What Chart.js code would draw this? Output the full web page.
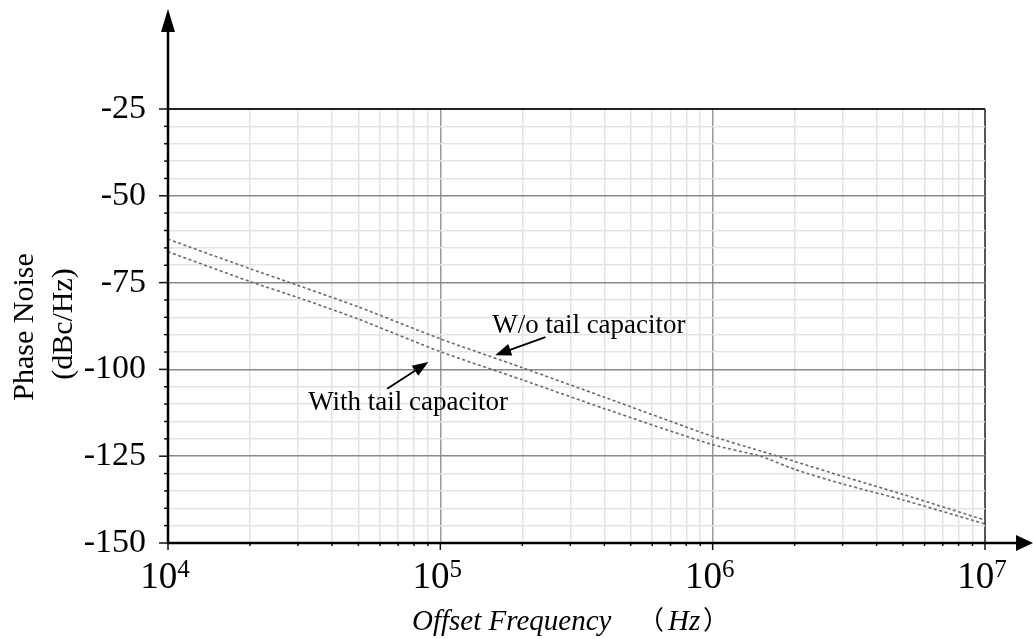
<!DOCTYPE html>
<html>
<head>
<meta charset="utf-8">
<script src="https://cdn.jsdelivr.net/npm/chart.js@4.4.1/dist/chart.umd.min.js"></script>
<style>
  html, body { margin: 0; padding: 0; background: #fff; }
  #wrap { width: 1033px; height: 639px; }
</style>
</head>
<body>
<div id="wrap"><canvas id="chart" width="1033" height="639"></canvas></div>
<script>
// data
const freqs = [1e4, 2e4, 3e4, 5e4, 1e5, 2e5, 4e5, 1e6, 1.5e6, 2e6, 3e6, 5e6, 1e7];
const withoutCap = [-62.5, -71, -75.8, -82, -91.2, -99.5, -108, -119.3, -123.5, -126.5, -130.8, -136, -143.4];
const withCap = [-66.1, -74.7, -79.3, -85.5, -94.9, -103, -111.3, -121.7, -125, -128.8, -133, -137.6, -144.5];
const decades = [4, 5, 6, 7];
const yLabels = [-25, -50, -75, -100, -125, -150];

// minor ticks 2..9 inside each decade
const xTicks = [];
decades.forEach((d, i) => {
  if (i < decades.length - 1) {
    for (let m = 1; m <= 9; m++) xTicks.push(m * Math.pow(10, d));
  } else {
    xTicks.push(Math.pow(10, d));
  }
});

// labels with their arrows, in data units
const notes = [
  { text: 'W/o tail capacitor', at: [1.55e5, -89.5], from: [2.43e5, -90.7], to: [1.59e5, -95.9] },
  { text: 'With tail capacitor', at: [3.27e4, -111.7], from: [6.38e4, -105.6], to: [9.04e4, -97.9] }
];

const serif = "'Liberation Serif', 'Times New Roman', serif";
const cjk = "'Noto Sans CJK SC', sans-serif";
const isDecade = v => Math.abs(Math.log10(v) - Math.round(Math.log10(v))) < 1e-9;

function arrow(ctx, x1, y1, x2, y2, len, half) {
  const ang = Math.atan2(y2 - y1, x2 - x1);
  ctx.beginPath();
  ctx.moveTo(x1, y1);
  ctx.lineTo(x2 - Math.cos(ang) * len * 0.8, y2 - Math.sin(ang) * len * 0.8);
  ctx.stroke();
  ctx.beginPath();
  ctx.moveTo(x2, y2);
  ctx.lineTo(x2 - Math.cos(ang) * len - Math.sin(ang) * half, y2 - Math.sin(ang) * len + Math.cos(ang) * half);
  ctx.lineTo(x2 - Math.cos(ang) * len + Math.sin(ang) * half, y2 - Math.sin(ang) * len - Math.cos(ang) * half);
  ctx.closePath();
  ctx.fill();
}

const decor = {
  id: 'decor',
  afterDraw(chart) {
    const { ctx, chartArea: a, scales: { x, y } } = chart;
    ctx.save();

    // tick marks
    ctx.strokeStyle = '#111';
    ctx.lineWidth = 1.5;
    y.ticks.forEach(t => {
      const py = y.getPixelForValue(t.value);
      const len = t.value % 25 === 0 ? 9 : 4;
      ctx.beginPath(); ctx.moveTo(a.left - len, py); ctx.lineTo(a.left, py); ctx.stroke();
    });
    x.ticks.forEach(t => {
      const px = x.getPixelForValue(t.value);
      const len = isDecade(t.value) ? 7 : 3;
      ctx.beginPath(); ctx.moveTo(px, a.bottom); ctx.lineTo(px, a.bottom + len); ctx.stroke();
    });

    // axes with arrow heads
    ctx.strokeStyle = '#000';
    ctx.fillStyle = '#000';
    ctx.lineWidth = 2.5;
    ctx.beginPath(); ctx.moveTo(a.left, a.bottom + 1); ctx.lineTo(a.left, 30); ctx.stroke();
    ctx.beginPath(); ctx.moveTo(a.left - 7, 32); ctx.lineTo(a.left, 9); ctx.lineTo(a.left + 7, 32); ctx.closePath(); ctx.fill();
    ctx.beginPath(); ctx.moveTo(a.left - 1, a.bottom); ctx.lineTo(1018, a.bottom); ctx.stroke();
    ctx.beginPath(); ctx.moveTo(1016, a.bottom - 8); ctx.lineTo(1033, a.bottom); ctx.lineTo(1016, a.bottom + 8); ctx.closePath(); ctx.fill();

    // x tick labels 10^n
    ctx.textBaseline = 'alphabetic';
    ctx.textAlign = 'left';
    decades.forEach(d => {
      const px = x.getPixelForValue(Math.pow(10, d));
      ctx.font = '37px ' + serif;
      const w1 = ctx.measureText('10').width;
      ctx.font = '25px ' + serif;
      const w2 = ctx.measureText(String(d)).width;
      const left = px - 3 - (w1 + w2) / 2;
      ctx.font = '37px ' + serif;
      ctx.fillText('10', left, 588);
      ctx.font = '25px ' + serif;
      ctx.fillText(String(d), left + w1, 577);
    });

    // axis titles
    ctx.font = 'italic 29px ' + serif;
    ctx.fillText('Offset Frequency', 412, 630);
    ctx.fillText('Hz', 668, 630);
    ctx.font = '26px ' + cjk;
    ctx.fillText('\uFF08', 638, 629);
    ctx.fillText('\uFF09', 703, 629);

    ctx.font = '30px ' + serif;
    ctx.textAlign = 'center';
    ctx.save(); ctx.translate(33, 327); ctx.rotate(-Math.PI / 2); ctx.fillText('Phase Noise', 0, 0); ctx.restore();
    ctx.save(); ctx.translate(72, 324); ctx.rotate(-Math.PI / 2); ctx.fillText('(dBc/Hz)', 0, 0); ctx.restore();

    // annotations
    ctx.textAlign = 'left';
    ctx.font = '27px ' + serif;
    ctx.lineWidth = 1.8;
    notes.forEach(n => {
      ctx.fillText(n.text, x.getPixelForValue(n.at[0]), y.getPixelForValue(n.at[1]));
      arrow(ctx,
        x.getPixelForValue(n.from[0]), y.getPixelForValue(n.from[1]),
        x.getPixelForValue(n.to[0]), y.getPixelForValue(n.to[1]), 16, 6);
    });

    ctx.restore();
  }
};

const lineStyle = {
  borderColor: '#6a6a6a',
  borderWidth: 1.6,
  borderDash: [3, 2.5],
  pointRadius: 0,
  fill: false,
  tension: 0.2
};

new Chart(document.getElementById('chart'), {
  type: 'line',
  data: {
    datasets: [
      Object.assign({ label: 'W/o tail capacitor', data: freqs.map((f, i) => ({ x: f, y: withoutCap[i] })) }, lineStyle),
      Object.assign({ label: 'With tail capacitor', data: freqs.map((f, i) => ({ x: f, y: withCap[i] })) }, lineStyle)
    ]
  },
  options: {
    responsive: false,
    animation: false,
    layout: { padding: { top: 109, right: 48, left: 0, bottom: 0 } },
    plugins: { legend: { display: false }, tooltip: { enabled: false } },
    scales: {
      x: {
        type: 'logarithmic',
        min: 1e4,
        max: 1e7,
        afterBuildTicks: s => { s.ticks = xTicks.map(v => ({ value: v })); },
        afterFit: s => { s.height = 96; },
        ticks: { display: false },
        border: { display: false },
        grid: {
          drawTicks: false,
          color: c => {
            const v = c.tick ? c.tick.value : 0;
            if (v >= 1e7 * 0.999) return '#555';
            return isDecade(v) ? '#9a9a9a' : '#e3e3e3';
          },
          lineWidth: c => {
            const v = c.tick ? c.tick.value : 0;
            return v >= 1e7 * 0.999 ? 2 : 1.5;
          }
        }
      },
      y: {
        min: -150,
        max: -25,
        afterFit: s => { s.width = 168; },
        border: { display: false },
        ticks: {
          stepSize: 5,
          autoSkip: false,
          padding: 22,
          color: '#000',
          font: { family: serif, size: 34 },
          callback: v => yLabels.includes(v) ? String(v) : ''
        },
        grid: {
          drawTicks: false,
          color: c => {
            const v = c.tick ? c.tick.value : 0;
            if (v === -25) return '#222';
            return v % 25 === 0 ? '#8a8a8a' : '#e3e3e3';
          },
          lineWidth: c => (c.tick && c.tick.value === -25) ? 2 : 1.5
        }
      }
    }
  },
  plugins: [decor]
});
</script>
</body>
</html>
